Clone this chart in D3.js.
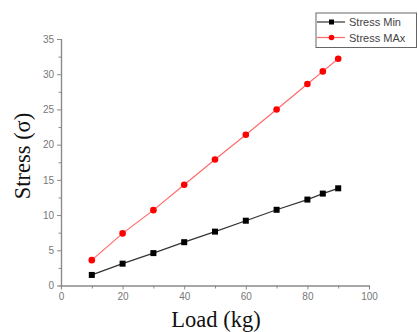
<!DOCTYPE html>
<html>
<head>
<meta charset="utf-8">
<script src="https://cdn.jsdelivr.net/npm/d3@7"></script>
<style>
  body { margin: 0; background: #fff; }
  svg { display: block; }
</style>
</head>
<body>
<script>
// chart values
let loads = [10, 20, 30, 40, 50, 60, 70, 80, 85, 90];
let stressMin = [1.5, 3.1, 4.6, 6.15, 7.65, 9.2, 10.75, 12.2, 13.05, 13.8];
let stressMax = [3.6, 7.4, 10.7, 14.3, 17.9, 21.4, 25.0, 28.6, 30.4, 32.2];
let xTicks = [0, 20, 40, 60, 80, 100];
let yTicks = [0, 5, 10, 15, 20, 25, 30, 35];
let seriesNames = ['Stress Min', 'Stress MAx'];

let width = 418, height = 332;
let plotLeft = 61, plotRight = 369, plotTop = 39, plotBottom = 285.5;
let axisColor = '#8a8a8a';

let svg = d3.select('body')
    .append('svg')
    .attr('width', width)
    .attr('height', height);

let xScale = d3.scaleLinear().domain([0, 100]).range([plotLeft, plotRight]);
let yScale = d3.scaleLinear().domain([0, 35]).range([plotBottom, plotTop]);

// minor ticks first, then major with labels
let drawAxes = () => {
    let xMinor = d3.axisBottom(xScale).tickValues(d3.range(10, 100, 20)).tickSize(3).tickFormat('');
    let yMinor = d3.axisLeft(yScale).tickValues(d3.range(2.5, 35, 5)).tickSize(2.5).tickFormat('');
    let xAxis = d3.axisBottom(xScale).tickValues(xTicks).tickSize(4).tickPadding(3).tickSizeOuter(0);
    let yAxis = d3.axisLeft(yScale).tickValues(yTicks).tickSize(4).tickPadding(3).tickSizeOuter(0);

    svg.append('g').attr('transform', 'translate(0,' + plotBottom + ')').call(xMinor);
    svg.append('g').attr('transform', 'translate(' + plotLeft + ',0)').call(yMinor);
    svg.append('g').attr('class', 'axis').attr('transform', 'translate(0,' + plotBottom + ')').call(xAxis);
    svg.append('g').attr('class', 'axis').attr('transform', 'translate(' + plotLeft + ',0)').call(yAxis);

    svg.selectAll('.domain').attr('stroke', axisColor).attr('stroke-width', 1.2);
    svg.selectAll('.tick line').attr('stroke', axisColor);
    svg.selectAll('.tick text')
        .attr('fill', '#777')
        .style('font-family', 'Arial, "Liberation Sans", sans-serif')
        .style('font-size', '10px');
};

let drawSeries = () => {
    let line = d3.line().x(d => xScale(d[0])).y(d => yScale(d[1]));
    let minData = loads.map((l, i) => [l, stressMin[i]]);
    let maxData = loads.map((l, i) => [l, stressMax[i]]);

    svg.append('path').datum(maxData).attr('d', line)
        .attr('fill', 'none').attr('stroke', '#ff6b6b').attr('stroke-width', 1.2);
    svg.append('path').datum(minData).attr('d', line)
        .attr('fill', 'none').attr('stroke', '#333').attr('stroke-width', 1.2);

    svg.selectAll('circle.max')
        .data(maxData)
        .enter()
        .append('circle')
        .attr('class', 'max')
        .attr('cx', d => xScale(d[0]))
        .attr('cy', d => yScale(d[1]))
        .attr('r', 3.3)
        .attr('fill', '#ff0000');

    svg.selectAll('rect.min')
        .data(minData)
        .enter()
        .append('rect')
        .attr('class', 'min')
        .attr('x', d => xScale(d[0]) - 3)
        .attr('y', d => yScale(d[1]) - 3)
        .attr('width', 6)
        .attr('height', 6)
        .attr('fill', '#000');
};

let drawLabels = () => {
    svg.append('text')
        .attr('x', 216)
        .attr('y', 327)
        .attr('text-anchor', 'middle')
        .style('font-family', '"Liberation Serif", "Times New Roman", serif')
        .style('font-size', '22.5px')
        .attr('fill', '#111')
        .text('Load (kg)');

    svg.append('text')
        .attr('transform', 'translate(30,156) rotate(-90)')
        .attr('text-anchor', 'middle')
        .style('font-family', '"Liberation Serif", "Times New Roman", serif')
        .style('font-size', '22.5px')
        .attr('fill', '#111')
        .text('Stress (σ)');
};

let drawLegend = () => {
    let g = svg.append('g');
    g.append('rect')
        .attr('x', 316).attr('y', 13)
        .attr('width', 100.5).attr('height', 34.5)
        .attr('fill', '#fff').attr('stroke', '#666').attr('stroke-width', 1);

    let colors = ['#333', '#ff6b6b'];
    let rows = [22, 37.5];
    seriesNames.forEach((name, i) => {
        let y = rows[i];
        g.append('line')
            .attr('x1', 317).attr('x2', 345).attr('y1', y).attr('y2', y)
            .attr('stroke', colors[i]).attr('stroke-width', 1.2);
        if (i === 0) {
            g.append('rect').attr('x', 329).attr('y', y - 2.5).attr('width', 5).attr('height', 5).attr('fill', '#000');
        } else {
            g.append('circle').attr('cx', 331.5).attr('cy', y).attr('r', 2.8).attr('fill', '#ff0000');
        }
        g.append('text')
            .attr('x', 349).attr('y', y + 4)
            .style('font-family', 'Arial, "Liberation Sans", sans-serif')
            .style('font-size', '11px')
            .attr('fill', '#444')
            .text(name);
    });
};

drawAxes();
drawSeries();
drawLabels();
drawLegend();
</script>
</body>
</html>
